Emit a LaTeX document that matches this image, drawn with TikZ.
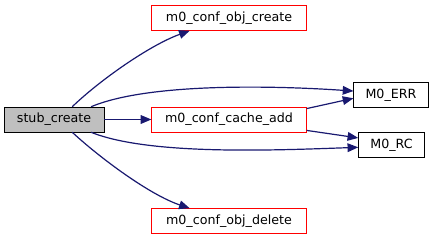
\documentclass[tikz,border=0pt]{standalone}
\usepackage{fontspec}
\setmainfont{DejaVu Sans}
\usetikzlibrary{arrows.meta}
\definecolor{edgeblue}{HTML}{191970}
\definecolor{stubgray}{HTML}{BFBFBF}

\begin{document}
\begin{tikzpicture}[x=0.75pt, y=-0.75pt,
		fn/.style={draw, inner sep=0pt, minimum height=18.75pt, font={\fontsize{9.5}{11}\selectfont}},
		call/.style={draw=red, fn},
		calls/.style={draw=edgeblue, line width=0.9pt, -{Triangle[length=8pt, width=6.5pt]}}]
		\useasboundingbox (0,0) rectangle (435,240);

		\node[fn, fill=stubgray, minimum width=75pt] at (54,119.5) (stub) {stub\_create};

		\node[call, minimum width=116pt] at (229,18) (objcreate) {m0\_conf\_obj\_create};
		\node[call, minimum width=116pt] at (229,119.5) (cacheadd) {m0\_conf\_cache\_add};
		\node[call, minimum width=116pt] at (229,221) (objdelete) {m0\_conf\_obj\_delete};

		\node[fn, minimum width=56pt] at (391,95) (err) {M0\_ERR};
		\node[fn, minimum width=49.5pt] at (391.5,145) (rc) {M0\_RC};

		\draw[calls] (stub.35) .. controls (100,80) and (150,45) .. (objcreate.198);
		\draw[calls] (stub.19) .. controls (150,82) and (280,86) .. (err.174);
		\draw[calls] (stub) -- (cacheadd);
		\draw[calls] (stub.-19) .. controls (150,156) and (280,150) .. (rc.-176);
		\draw[calls] (stub.-35) .. controls (100,158) and (150,195) .. (objdelete.162);

		\draw[calls] (cacheadd.8) -- (err.185);
		\draw[calls] (cacheadd.-8) -- (rc.168);
	\end{tikzpicture}
\end{document}
